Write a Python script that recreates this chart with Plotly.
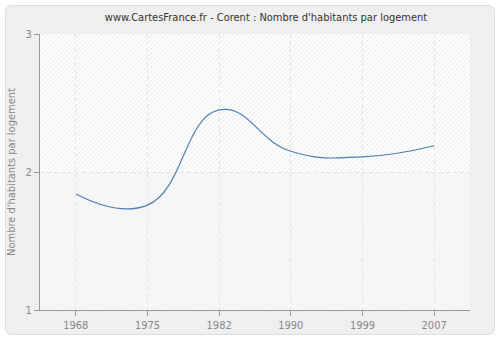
import base64
import plotly.graph_objects as go

years = ["1968", "1975", "1982", "1990", "1999", "2007"]
habitants_par_logement = [1.84, 1.76, 2.45, 2.15, 2.11, 2.19]
y_ticks = [1, 2, 3]

W, H = 500, 340
L, R, T, B = 40, 30, 34, 30
PW, PH = W - L - R, H - T - B
FONT = "DejaVu Sans Condensed, Liberation Sans, sans-serif"

# card background with rounded frame, and a diagonal hatch behind the plot area
# (white upper half, light grey lower half)
bg_svg = f"""<svg xmlns="http://www.w3.org/2000/svg" width="{W}" height="{H}">
<defs>
<pattern id="a" width="3.2" height="3.2" patternUnits="userSpaceOnUse" patternTransform="rotate(45)">
<rect width="3.2" height="3.2" fill="#ffffff"/>
<line x1="0.5" y1="0" x2="0.5" y2="3.2" stroke="#ececec" stroke-width="1"/>
</pattern>
<pattern id="b" width="3.2" height="3.2" patternUnits="userSpaceOnUse" patternTransform="rotate(45)">
<rect width="3.2" height="3.2" fill="#f8f8f8"/>
<line x1="0.5" y1="0" x2="0.5" y2="3.2" stroke="#f1f1f1" stroke-width="1"/>
</pattern>
</defs>
<rect x="0" y="0" width="{W}" height="{H}" fill="#ffffff"/>
<rect x="5.5" y="5.5" width="{W - 11}" height="{H - 11}" rx="6" ry="6" fill="#efefef" stroke="#dddddd" stroke-width="1"/>
<rect x="{L}" y="{T}" width="{PW}" height="{PH / 2}" fill="url(#a)"/>
<rect x="{L}" y="{T + PH / 2}" width="{PW}" height="{PH / 2}" fill="url(#b)"/>
</svg>"""
bg_uri = "data:image/svg+xml;base64," + base64.b64encode(bg_svg.encode()).decode()

fig = go.Figure()

fig.add_trace(go.Scatter(
    x=years, y=habitants_par_logement,
    mode="lines",
    line=dict(color="#4f7fb5", width=1.2, shape="spline", smoothing=1.3),
    hoverinfo="x+y", showlegend=False,
))

grid = dict(showgrid=True, gridcolor="#e4e4e4", griddash="4px,3px", gridwidth=1)

fig.update_layout(
    width=W, height=H,
    margin=dict(l=L, r=R, t=T, b=B),
    paper_bgcolor="#ffffff",
    plot_bgcolor="rgba(0,0,0,0)",
    font=dict(family=FONT, size=11, color="#888888"),
    title=dict(
        text="www.CartesFrance.fr - Corent : Nombre d'habitants par logement",
        x=266 / W, xanchor="center", y=1 - 17 / H, yanchor="middle",
        font=dict(family=FONT, size=11, color="#333333"),
    ),
    xaxis=dict(
        type="category", range=[-0.5, len(years) - 0.5],
        showline=True, linecolor="#999999", linewidth=1,
        ticks="outside", ticklen=5, tickcolor="#999999",
        zeroline=False, tickfont=dict(size=11, color="#888888"),
        automargin=False, **grid,
    ),
    yaxis=dict(
        range=[1, 3], tickvals=y_ticks,
        showline=True, linecolor="#999999", linewidth=1,
        ticks="outside", ticklen=5, tickcolor="#999999",
        zeroline=False, tickfont=dict(size=11, color="#888888"),
        title=dict(text="Nombre d'habitants par logement", standoff=7,
                   font=dict(size=11, color="#888888")),
        automargin=False, **grid,
    ),
    images=[dict(
        source=bg_uri, xref="paper", yref="paper",
        x=-L / PW, y=1 + T / PH, sizex=W / PW, sizey=H / PH,
        xanchor="left", yanchor="top",
        sizing="stretch", layer="below",
    )],
)

fig.write_html("out.html")
